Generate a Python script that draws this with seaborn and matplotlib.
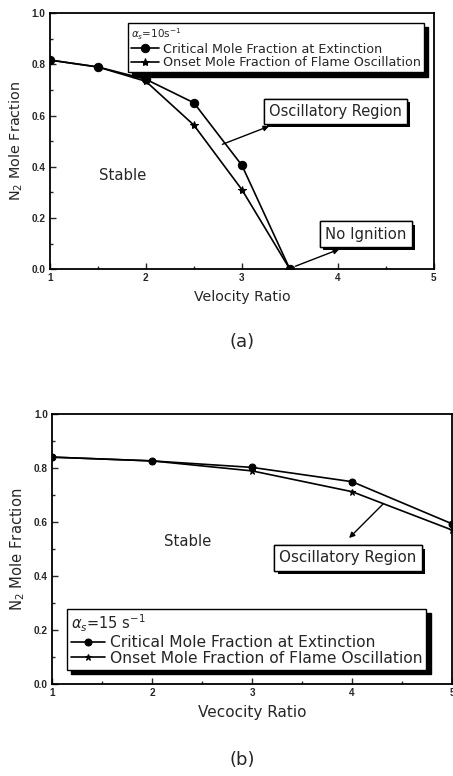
import numpy as np
import pandas as pd
import seaborn as sns
import matplotlib
matplotlib.use("Agg")
import matplotlib.pyplot as plt
from matplotlib.ticker import MultipleLocator
import matplotlib.patheffects as pe

# ---- data (a) ----
a_ratio = [1.0, 1.5, 2.0, 2.5, 3.0, 3.5]
a_critical = [0.817, 0.790, 0.742, 0.650, 0.406, 0.0]
a_onset = [0.817, 0.790, 0.734, 0.563, 0.311, 0.0]
# ---- data (b) ----
b_ratio = [1.0, 2.0, 3.0, 4.0, 5.0]
b_critical = [0.840, 0.826, 0.802, 0.749, 0.593]
b_onset = [0.840, 0.826, 0.789, 0.712, 0.570]

series_names = ["Critical Mole Fraction at Extinction",
                "Onset Mole Fraction of Flame Oscillation"]

sns.set_style("ticks")
plt.rcParams["font.family"] = ["DejaVu Sans"]
plt.rcParams["mathtext.fontset"] = "dejavusans"

TICKFONT = ["Liberation Sans", "DejaVu Sans"]

fig = plt.figure(figsize=(4.53, 7.76), dpi=100)
ax1 = fig.add_axes([0.110, 0.653, 0.848, 0.330])
ax2 = fig.add_axes([0.115, 0.1186, 0.883, 0.348])

def make_df(x, c, o):
    return pd.DataFrame({
        "x": list(x) + list(x),
        "y": list(c) + list(o),
        "s": [series_names[0]] * len(x) + [series_names[1]] * len(x),
    })

def draw(ax, df, msize):
    sns.lineplot(data=df, x="x", y="y", hue="s", style="s",
                 palette=["black", "black"], markers=["o", "*"],
                 dashes=False, markersize=msize, linewidth=1.2,
                 markeredgecolor="black", ax=ax, legend=True)

def style_axes(ax, xlabel, xlsize, ylsize):
    ax.set_xlim(1, 5)
    ax.set_ylim(0, 1.0)
    ax.xaxis.set_major_locator(MultipleLocator(1))
    ax.xaxis.set_minor_locator(MultipleLocator(0.5))
    ax.yaxis.set_minor_locator(MultipleLocator(0.1))
    ax.set_yticks(np.arange(0, 1.01, 0.2))
    ax.set_yticklabels([f"{v:.1f}" for v in np.arange(0, 1.01, 0.2)])
    ax.tick_params(which="both", direction="in", top=False, right=False,
                   width=1.0)
    ax.tick_params(which="major", length=4, labelsize=7.2, pad=3)
    ax.tick_params(which="minor", length=2)
    for lab in ax.get_xticklabels() + ax.get_yticklabels():
        lab.set_fontweight("bold")
        lab.set_family(TICKFONT)
    for sp in ax.spines.values():
        sp.set_linewidth(1.3)
        sp.set_color("black")
    ax.set_xlabel(xlabel, fontsize=xlsize, labelpad=5)
    ax.set_ylabel(r"N$_2$ Mole Fraction", fontsize=ylsize, labelpad=5)

def boxed(ax, x, y, s, size):
    t = ax.text(x, y, s, fontsize=size, ha="center", va="center",
                bbox=dict(boxstyle="square,pad=0.35", fc="white", ec="black",
                          lw=1.0), zorder=6)
    t.get_bbox_patch().set_path_effects(
        [pe.withSimplePatchShadow(offset=(2.5, -2.5), shadow_rgbFace="black",
                                  alpha=1.0), pe.Normal()])
    return t

def legend(ax, title, anchor, size, tsize):
    leg = ax.legend(title=title, loc="upper left", bbox_to_anchor=anchor,
                    borderaxespad=0, fontsize=size, title_fontsize=tsize,
                    frameon=True, fancybox=False, alignment="left",
                    handlelength=2.2, handletextpad=0.3, borderpad=0.25,
                    labelspacing=0.05,
                    shadow={"color": "black", "alpha": 1.0, "ox": 3, "oy": -3})
    leg.get_frame().set_edgecolor("black")
    leg.get_frame().set_linewidth(1.0)
    return leg

# ---- panel (a) ----
draw(ax1, make_df(a_ratio, a_critical, a_onset), 6)
style_axes(ax1, "Velocity Ratio", 10.2, 10.4)
legend(ax1, r"$\alpha_s$=10s$^{-1}$", (0.203, 0.961), 9.2, 7.5)
ax1.text(1.76, 0.367, "Stable", fontsize=10.7, ha="center", va="center")
boxed(ax1, 3.97, 0.617, "Oscillatory Region", 10.5)
boxed(ax1, 4.29, 0.137, "No Ignition", 10.7)
ax1.annotate("", xy=(3.31, 0.5625), xytext=(2.77, 0.484),
             arrowprops=dict(arrowstyle="-|>", color="black", lw=1.0,
                             mutation_scale=8))
ax1.annotate("", xy=(4.04, 0.082), xytext=(3.53, 0.008),
             arrowprops=dict(arrowstyle="-|>", color="black", lw=1.0,
                             mutation_scale=8))

# ---- panel (b) ----
draw(ax2, make_df(b_ratio, b_critical, b_onset), 5)
style_axes(ax2, "Vecocity Ratio", 11, 10.6)
legend(ax2, r"$\alpha_s$=15 s$^{-1}$", (0.0375, 0.278), 11.2, 10.5)
ax2.text(2.36, 0.526, "Stable", fontsize=10.7, ha="center", va="center")
boxed(ax2, 3.96, 0.467, "Oscillatory Region", 10.9)
ax2.annotate("", xy=(3.95, 0.533), xytext=(4.33, 0.674),
             arrowprops=dict(arrowstyle="-|>", color="black", lw=1.0,
                             mutation_scale=8))

fig.text(0.535, 1 - 342 / 776, "(a)", fontsize=13, ha="center", va="center")
fig.text(0.535, 1 - 760 / 776, "(b)", fontsize=13, ha="center", va="center")

fig.savefig("out.png", dpi=100)
